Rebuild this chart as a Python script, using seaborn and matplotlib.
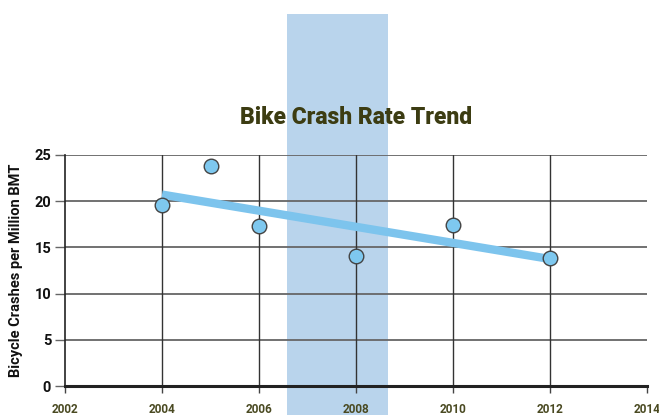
import matplotlib
matplotlib.use("Agg")
import matplotlib.pyplot as plt
import seaborn as sns
import pandas as pd

years = [2004, 2005, 2006, 2008, 2010, 2012]
rates = [19.6, 23.8, 17.3, 14.1, 17.4, 13.8]
xticks = [2002, 2004, 2006, 2008, 2010, 2012, 2014]
yticks = [0, 5, 10, 15, 20, 25]
band = (2006.58, 2008.66)

df = pd.DataFrame({"year": years, "rate": rates})

sns.set_style("white")
plt.rcParams["font.family"] = ["Roboto", "DejaVu Sans"]

fig = plt.figure(figsize=(6.59, 4.15), dpi=100)
ax = fig.add_axes([65/659, 1-386/415, (647-65)/659, (386-155)/415])

ax.axvspan(band[0], band[1], ymin=-0.2, ymax=(386-14)/231, color="#b9d4ec",
           zorder=0, clip_on=False, lw=0)

for y in yticks[1:]:
    ax.axhline(y, color="#666666", lw=1.3, zorder=1)
for x in xticks[1:-1]:
    ax.axvline(x, color="#333333", lw=1.0, zorder=1)

sns.regplot(data=df, x="year", y="rate", ax=ax, ci=None, scatter=False,
            truncate=True, line_kws=dict(color="#7dc4ed", lw=6, zorder=3,
                                         solid_capstyle="butt"))
sns.scatterplot(data=df, x="year", y="rate", ax=ax, s=110, color="#7ec8ef",
                edgecolor="#444444", linewidth=1.0, zorder=4)

ax.set_xlim(2002, 2014)
ax.set_ylim(0, 25)
ax.set_xticks(xticks)
ax.set_yticks(yticks)
ax.set_xticklabels([str(t) for t in xticks], fontsize=8.5, fontweight="bold",
                   color="#4a4a22")
ax.set_yticklabels([str(t) for t in yticks], fontsize=10.5, fontweight="bold",
                   color="#111111")
ax.tick_params(axis="x", length=5, width=1, color="#444444", pad=7, bottom=True)
ax.tick_params(axis="y", length=7, width=1, color="#666666", pad=3, left=True)

for s in ["top", "right"]:
    ax.spines[s].set_visible(False)
ax.spines["left"].set_color("#222222")
ax.spines["left"].set_linewidth(1.2)
ax.spines["bottom"].set_color("#222222")
ax.spines["bottom"].set_linewidth(2.2)
ax.spines["left"].set_zorder(2)
ax.spines["bottom"].set_zorder(2)

ax.set_xlabel("")
ax.set_ylabel("Bicycle Crashes per Million BMT", fontsize=10.5,
              fontweight="bold", color="#111111", labelpad=8)
ax.set_title("Bike Crash Rate Trend", fontsize=16.5, fontweight="black",
             color="#3c3c12", pad=22)

fig.savefig("out.png", dpi=100)
